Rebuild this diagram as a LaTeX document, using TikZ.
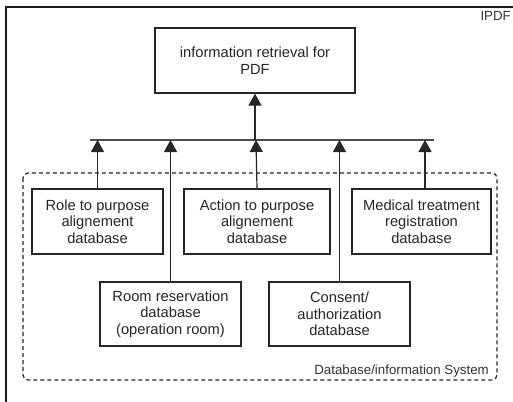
\documentclass[tikz,border=0pt]{standalone}
\usepackage{fontspec}
\setmainfont{Liberation Sans}
\usetikzlibrary{arrows.meta}
\begin{document}
\begin{tikzpicture}[x=1pt,y=-1pt,
  box/.style={draw=black!85, line width=1.2pt, align=center, inner sep=0pt,
    font=\fontsize{14.7}{16.7}\selectfont, text=black!85},
  arr/.style={draw=black!85, line width=1.2pt, -{Triangle[width=13pt,length=12pt]}},
  conn/.style={draw=black!85, line width=1.2pt},
  lbl/.style={font=\fontsize{13.3}{15}\selectfont, text=black!80, inner sep=0pt}]
\useasboundingbox (0,0) rectangle (513,401);
% outer frame (cut by page)
\coordinate (fbl) at (6,405);
\coordinate (ftl) at (6,7);
\coordinate (ftr) at (517,7);
\draw[line width=1.8pt, black!90] (fbl) -- (ftl) -- (ftr);
\node[lbl, anchor=north east] (ipdf) at (511,11) {IPDF};
% dashed system box
\draw[dash pattern=on 4pt off 3pt, line width=1.2pt, black!85, rounded corners=5pt]
  (23,173) rectangle (497,380);
\node[lbl, anchor=base east] (sys) at (489,374) {Database/information System};
% top box
\node[box, minimum width=200pt, minimum height=65pt] (top) at (255,60.5)
  {information retrieval for\\PDF};
% database boxes
\node[box, minimum width=131pt, minimum height=65pt] (r1) at (97.5,221.5)
  {Role to purpose\\alignement\\database};
\node[box, minimum width=146pt, minimum height=65pt] (r2) at (257,221.5)
  {Action to purpose\\alignement\\database};
\node[box, minimum width=139pt, minimum height=65pt] (r3) at (421.5,221.5)
  {Medical treatment\\registration\\database};
\node[box, minimum width=141pt, minimum height=64pt] (r4) at (170.5,314)
  {Room reservation\\database\\(operation room)};
\node[box, minimum width=141pt, minimum height=64pt] (r5) at (339.5,314)
  {Consent/\\authorization\\database};
% bus
\coordinate (busL) at (90,140);
\coordinate (busR) at (434,140);
\draw[conn, black!70, line width=1.5pt] (busL) -- (busR);
% arrows
\draw[arr] (top.south |- busL) -- (top.south);
\draw[arr] (r1.north) -- (r1.north |- busL);
\draw[arr] (r2.north) -- ([xshift=-1pt]r2.north |- busL);
\draw[arr] ([xshift=3.5pt]r3.north) -- ([xshift=3.5pt]r3.north |- busL);
\draw[arr] (r4.north) -- (r4.north |- busL);
\draw[arr] (r5.north) -- (r5.north |- busL);
\end{tikzpicture}
\end{document}
